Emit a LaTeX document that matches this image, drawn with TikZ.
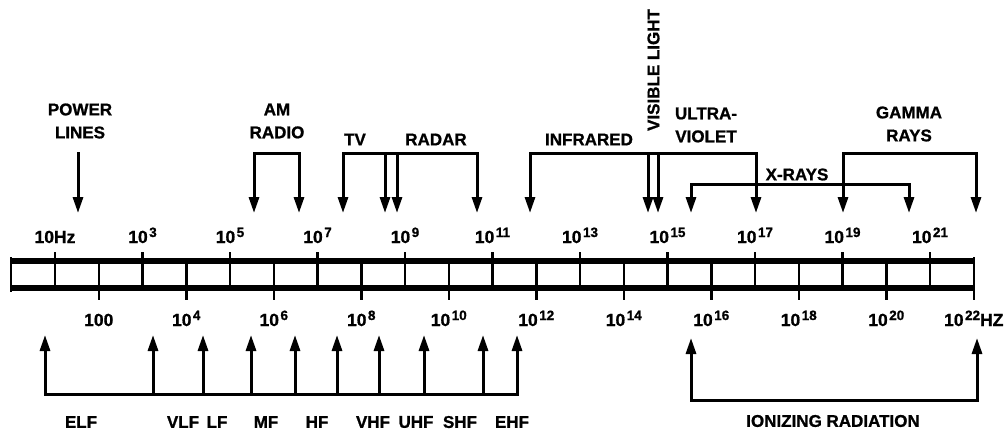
\documentclass[tikz,border=0pt]{standalone}
\usepackage{fontspec}
\setmainfont{Liberation Sans}
\newfontfamily\heavy{Liberation Sans Bold}[FakeBold=1]
\usetikzlibrary{arrows.meta}
\newcommand{\tpow}[1]{10\kern1.5pt\raisebox{6pt}{\fontsize{13.5}{13.5}\selectfont #1}}
\begin{document}
\begin{tikzpicture}[x=1pt,y=-1pt,
  txt/.style={font=\fontsize{17}{23}\selectfont\heavy, inner sep=0pt, align=center},
  num/.style={font=\fontsize{17.5}{20}\selectfont\heavy, inner sep=0pt, anchor=base},
  barline/.style={line width=6pt},
  tickline/.style={line width=2.5pt},
  brk/.style={line width=3pt, line cap=rect},
  arr/.style={line width=3pt, -{Triangle[length=16pt,width=10pt]}},
]
\useasboundingbox (0,0) rectangle (1008,433);

% ---------- scale bar ----------
\coordinate (bl) at (10,260.5);
\coordinate (br) at (975,260.5);
\coordinate (bbl) at (10,288);
\coordinate (bbr) at (975,288);
\draw[barline] (bl) -- (br);
\draw[barline] (bbl) -- (bbr);
\draw[line width=2pt] (11,257) -- (11,292);
\draw[tickline] (973.75,257) -- (973.75,300);
\foreach \n in {1,3,...,21}
  \draw[tickline] ({11.25+43.75*\n},252) -- ({11.25+43.75*\n},288);
\foreach \n in {2,4,...,20}
  \draw[tickline] ({11.25+43.75*\n},261) -- ({11.25+43.75*\n},300);

% top tick labels
\foreach \n/\t in {1/10Hz,3/\tpow{3},5/\tpow{5},7/\tpow{7},9/\tpow{9},11/\tpow{11},13/\tpow{13},15/\tpow{15},17/\tpow{17},19/\tpow{19},21/\tpow{21}}
  \node[num] (t\n) at ({11.25+43.75*\n},243) {\t};
% bottom tick labels
\foreach \n/\t in {2/100,4/\tpow{4},6/\tpow{6},8/\tpow{8},10/\tpow{10},12/\tpow{12},14/\tpow{14},16/\tpow{16},18/\tpow{18},20/\tpow{20},22/\tpow{22}HZ}
  \node[num] (b\n) at ({11.25+43.75*\n},326) {\t};

% ---------- top labels ----------
\node[txt] (power) at (80,121) {POWER\\LINES};
\node[txt] (am) at (277,121) {AM\\RADIO};
\node[txt] (tv) at (355,139.5) {TV};
\node[txt] (radar) at (436,139.5) {RADAR};
\node[txt] (ir) at (589,139.5) {INFRARED};
\node[txt, rotate=90] (vis) at (653.5,70) {VISIBLE LIGHT};
\node[txt] (uv) at (706,125) {ULTRA-\\VIOLET};
\node[txt] (xray) at (797,174.5) {X-RAYS};
\node[txt] (gamma) at (909,124) {GAMMA\\RAYS};

% power lines
\coordinate (p0) at (78,152);
\coordinate (p1) at (78,213);
\draw[arr] (p0) -- (p1);

% AM radio
\coordinate (a0) at (254,153);
\coordinate (a1) at (299,153);
\draw[brk] (a0) -- (a1);
\draw[arr] (a0) -- (254,213);
\draw[arr] (a1) -- (299,213);

% TV and radar
\coordinate (r0) at (343,153);
\coordinate (r1) at (477,153);
\draw[brk] (r0) -- (r1);
\foreach \x in {343,385,397,477}
  \draw[arr] (\x,153) -- (\x,213);

% infrared, visible, ultraviolet
\coordinate (i0) at (530,153);
\coordinate (i1) at (756,153);
\draw[brk] (i0) -- (i1);
\foreach \x in {530,648,658,756}
  \draw[arr] (\x,153) -- (\x,213);

% x-rays
\coordinate (x0) at (691,184);
\coordinate (x1) at (909,184);
\draw[brk] (x0) -- (x1);
\draw[arr] (x0) -- (691,213);
\draw[arr] (x1) -- (909,213);

% gamma rays
\coordinate (g0) at (843,153);
\coordinate (g1) at (976,153);
\draw[brk] (g0) -- (g1);
\draw[arr] (g0) -- (843,213);
\draw[arr] (g1) -- (976,213);

% ---------- bottom bands ----------
\coordinate (e0) at (45,394);
\coordinate (e1) at (517,394);
\draw[brk] (e0) -- (e1);
\foreach \x in {45,153,203,251,295,337,379,424,483,517}
  \draw[arr] (\x,394) -- (\x,335);

\node[txt] (elf) at (81,422) {ELF};
\node[txt] (vlf) at (183,422) {VLF};
\node[txt] (lf) at (217,422) {LF};
\node[txt] (mf) at (266,422) {MF};
\node[txt] (hf) at (317,422) {HF};
\node[txt] (vhf) at (373,422) {VHF};
\node[txt] (uhf) at (416,422) {UHF};
\node[txt] (shf) at (460,422) {SHF};
\node[txt] (ehf) at (512,422) {EHF};

\coordinate (n0) at (691,400);
\coordinate (n1) at (977,400);
\draw[brk] (n0) -- (n1);
\draw[arr] (n0) -- (691,338);
\draw[arr] (n1) -- (977,338);
\node[txt] (ion) at (833,421) {IONIZING RADIATION};
\end{tikzpicture}
\end{document}
